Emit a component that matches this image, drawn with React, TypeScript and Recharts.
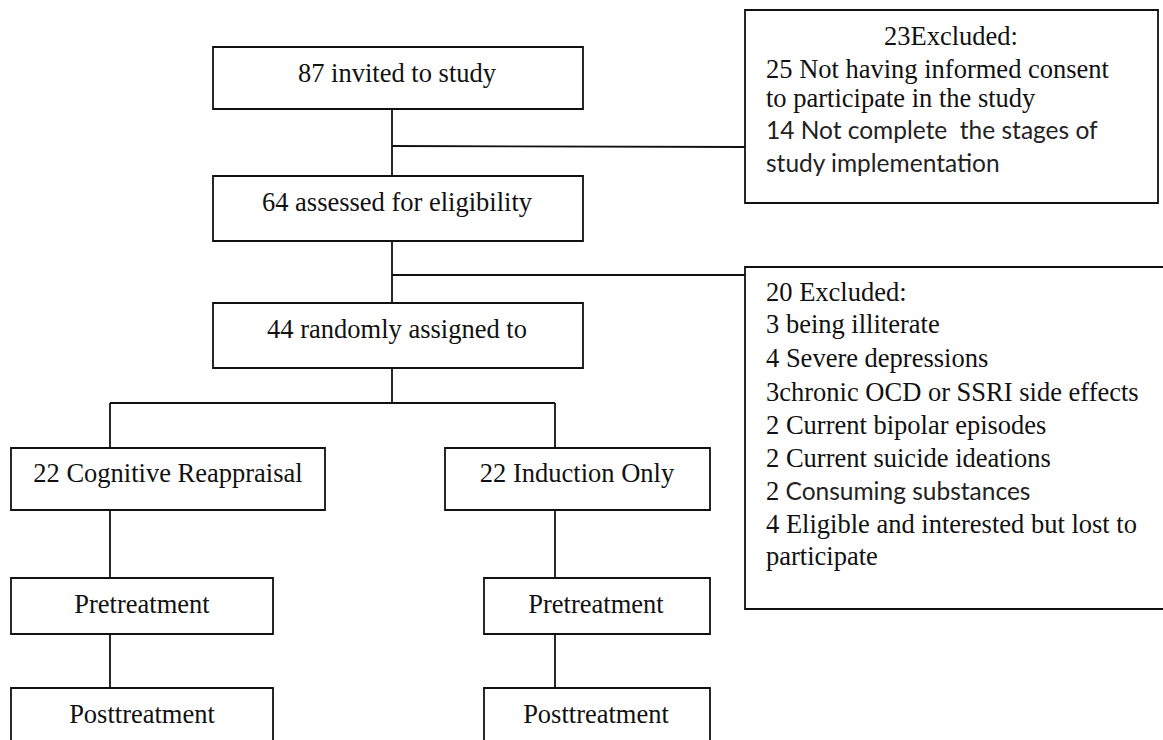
import { ScatterChart, Scatter, XAxis, YAxis, ReferenceArea, ReferenceLine } from "recharts";

// diagram units: the page is 1163 x 740, y grows downwards
const boxes = [
  { id: "invited", x0: 213, x1: 583, y0: 47, y1: 109 },
  { id: "assessed", x0: 213, x1: 583, y0: 176, y1: 241 },
  { id: "randomized", x0: 213, x1: 583, y0: 303, y1: 368 },
  { id: "cognitive", x0: 11, x1: 325, y0: 448, y1: 510 },
  { id: "induction", x0: 445, x1: 710, y0: 448, y1: 510 },
  { id: "preLeft", x0: 11, x1: 273, y0: 578, y1: 634 },
  { id: "preRight", x0: 484, x1: 710, y0: 578, y1: 634 },
  { id: "postLeft", x0: 11, x1: 273, y0: 688, y1: 770 },
  { id: "postRight", x0: 484, x1: 710, y0: 688, y1: 770 },
  { id: "excluded1", x0: 745, x1: 1158, y0: 10, y1: 203 },
  { id: "excluded2", x0: 745, x1: 1190, y0: 267, y1: 609 },
];

const connectors = [
  { x0: 392, y0: 109, x1: 392, y1: 176 },
  { x0: 392, y0: 146, x1: 745, y1: 147 },
  { x0: 392, y0: 241, x1: 392, y1: 303 },
  { x0: 392, y0: 275, x1: 745, y1: 275 },
  { x0: 392, y0: 368, x1: 392, y1: 403 },
  { x0: 110, y0: 403, x1: 555, y1: 403 },
  { x0: 110, y0: 403, x1: 110, y1: 448 },
  { x0: 555, y0: 403, x1: 555, y1: 448 },
  { x0: 110, y0: 510, x1: 110, y1: 578 },
  { x0: 555, y0: 510, x1: 555, y1: 578 },
  { x0: 110, y0: 634, x1: 110, y1: 688 },
  { x0: 555, y0: 634, x1: 555, y1: 688 },
];

const boxLabels = [
  { x: 397, y: 82, text: "87 invited to study" },
  { x: 397, y: 211, text: "64 assessed for eligibility" },
  { x: 397, y: 338, text: "44 randomly assigned to" },
  { x: 168, y: 482, text: "22 Cognitive Reappraisal" },
  { x: 577, y: 482, text: "22 Induction Only" },
  { x: 142, y: 613, text: "Pretreatment" },
  { x: 596, y: 613, text: "Pretreatment" },
  { x: 142, y: 723, text: "Posttreatment" },
  { x: 596, y: 723, text: "Posttreatment" },
  { x: 951, y: 45, text: "23Excluded:" },
];

// tnr = Times part, calibri = Calibri part of the same line
const listLines = [
  { x: 766, y: 78, tnr: "25 Not having informed consent", calibri: "" },
  { x: 766, y: 107, tnr: "to participate in the study", calibri: "" },
  { x: 766, y: 139, tnr: "", calibri: "14 Not complete  the stages of" },
  { x: 766, y: 172, tnr: "", calibri: "study implementation" },
  { x: 766, y: 301, tnr: "20 Excluded:", calibri: "" },
  { x: 766, y: 333, tnr: "3 being illiterate", calibri: "" },
  { x: 766, y: 367, tnr: "4 Severe depressions", calibri: "" },
  { x: 766, y: 401, tnr: "3chronic OCD or SSRI side effects", calibri: "" },
  { x: 766, y: 434, tnr: "2 Current bipolar episodes", calibri: "" },
  { x: 766, y: 467, tnr: "2 Current suicide ideations", calibri: "" },
  { x: 766, y: 500, tnr: "2", calibri: " Consuming substances" },
  { x: 766, y: 533, tnr: "4 Eligible and interested but lost to", calibri: "" },
  { x: 766, y: 565, tnr: "participate", calibri: "" },
];

const SERIF = "Liberation Serif, DejaVu Serif, serif";
const SANS = "Lato, Noto Sans, sans-serif";
const INK = "#111";

const serifStyle = { fontFamily: SERIF, fontSize: 26.5 };
const sansStyle = { fontFamily: SANS, fontSize: 24.5, fill: "#222" };

function CenteredLabel(props: any) {
  const { cx, cy, payload } = props;
  return (
    <text x={cx} y={cy} textAnchor="middle" fill={INK} style={serifStyle}>
      {payload.text}
    </text>
  );
}

function ListLine(props: any) {
  const { cx, cy, payload } = props;
  return (
    <text x={cx} y={cy} textAnchor="start" fill={INK} style={{ whiteSpace: "pre" }}>
      {payload.tnr ? <tspan style={serifStyle}>{payload.tnr}</tspan> : null}
      {payload.calibri ? <tspan style={sansStyle}>{payload.calibri}</tspan> : null}
    </text>
  );
}

export default function App() {
  return (
    <div style={{ position: "absolute", left: 0, top: 0, background: "#fff" }}>
      <ScatterChart width={1163} height={740} margin={{ top: 0, right: 0, bottom: 0, left: 0 }}>
        <XAxis type="number" dataKey="x" domain={[0, 1163]} allowDataOverflow hide />
        <YAxis type="number" dataKey="y" domain={[0, 740]} reversed allowDataOverflow hide />
        {boxes.map((b) => (
          <ReferenceArea
            key={b.id}
            x1={b.x0}
            x2={b.x1}
            y1={b.y0}
            y2={b.y1}
            fill="none"
            stroke={INK}
            strokeWidth={1.8}
            ifOverflow="hidden"
          />
        ))}
        {connectors.map((c, i) => (
          <ReferenceLine
            key={i}
            segment={[
              { x: c.x0, y: c.y0 },
              { x: c.x1, y: c.y1 },
            ]}
            stroke={INK}
            strokeWidth={1.8}
            ifOverflow="visible"
          />
        ))}
        <Scatter data={boxLabels} shape={CenteredLabel} isAnimationActive={false} />
        <Scatter data={listLines} shape={ListLine} isAnimationActive={false} />
      </ScatterChart>
    </div>
  );
}
